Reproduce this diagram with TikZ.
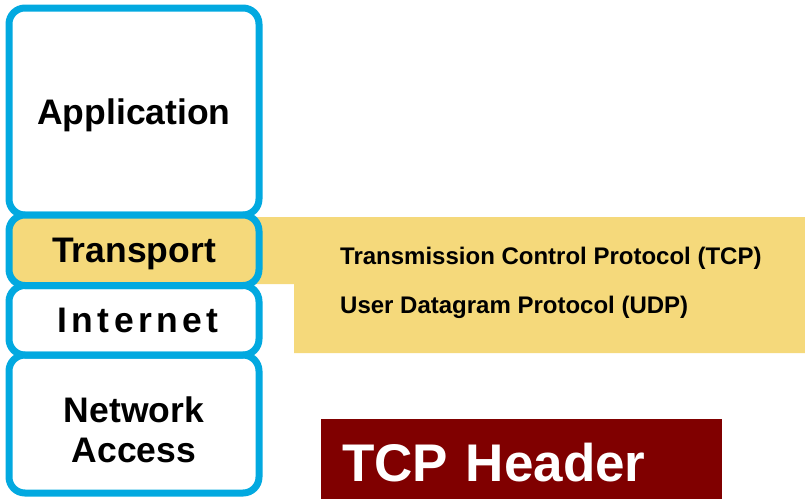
\documentclass[tikz,border=0pt]{standalone}
\usepackage{fontspec}
\setmainfont{Liberation Sans}

\definecolor{layercyan}{HTML}{02A9E0}
\definecolor{tcpyellow}{HTML}{F5D97B}
\definecolor{headred}{HTML}{800000}

\tikzset{
    layer/.style={draw=layercyan, line width=7pt, rounded corners=16pt,
        minimum width=250pt, inner sep=0pt, outer sep=0pt, align=center,
        font=\bfseries\fontsize{35.5}{40}\selectfont},
    oneline/.style={text height=25.4pt, text depth=0pt},
    proto/.style={anchor=base west, inner sep=0pt,
        font=\bfseries\fontsize{24}{28}\selectfont},
}

\begin{document}
\begin{tikzpicture}[x=1pt, y=-1pt]
    \useasboundingbox (0,0) rectangle (805,498);

    % the yellow band behind the transport layer
    \fill[tcpyellow] (255,217) -- (805,217) -- (805,353) -- (294,353)
        -- (294,284) -- (255,284) -- cycle;

    % the stack of layers
    \node[layer, oneline, minimum height=207pt] (app) at (134,111.5) {Application};
    \node[layer, oneline, fill=tcpyellow, minimum height=70.5pt] (transport) at (134,250.25) {Transport};
    \node[layer, oneline, minimum height=69.5pt] (internet) at (134,320.25)
        {\hspace*{8pt}\addfontfeature{LetterSpace=12.4}Internet};
    \node[layer, minimum height=138pt] (netaccess) at (134,424) {\rule{0pt}{38pt}Network\\Access};

    % the two protocols of the transport layer
    \node[proto] (tcp) at (340,264) {Transmission Control Protocol (TCP)};
    \node[proto] (udp) at (340,313) {User Datagram Protocol (UDP)};

    % the title box
    \node[fill=headred, text=white, anchor=north west, minimum width=401pt,
        minimum height=87pt, inner xsep=21pt, inner ysep=0pt, text width=359pt,
        align=left, text height=38pt, text depth=0pt,
        font=\bfseries\fontsize{53}{60}\selectfont] (header) at (321,419) {TCP Header};
\end{tikzpicture}
\end{document}
